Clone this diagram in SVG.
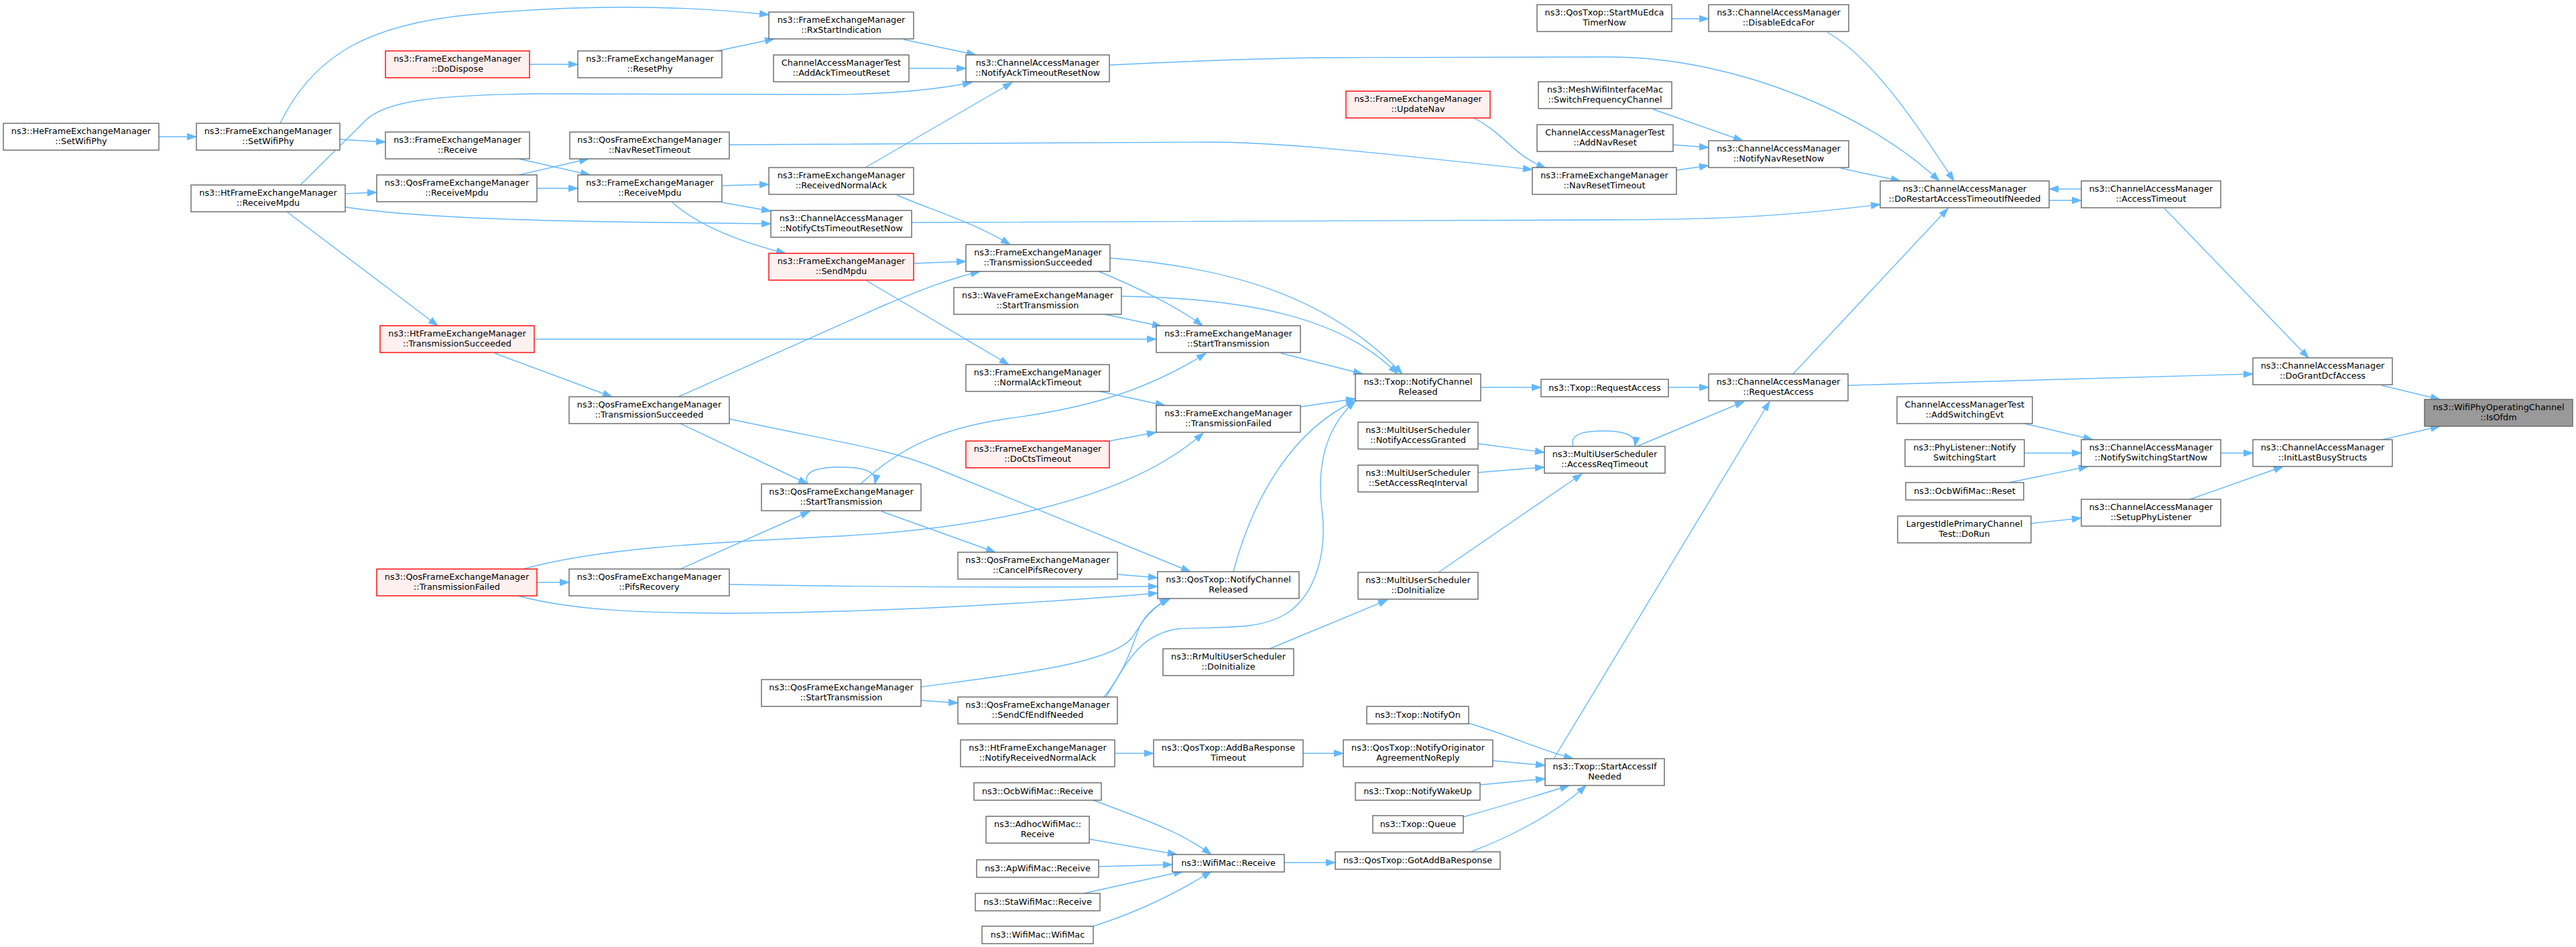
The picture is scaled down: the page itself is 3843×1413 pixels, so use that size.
<svg xmlns="http://www.w3.org/2000/svg" width="3843" height="1413" viewBox="0 0 3843 1413">
<style>
.n rect{fill:#ffffff;stroke:#666666;stroke-width:1.4}
.n.r rect{fill:#fff0f0;stroke:#ff0000}
.n.g rect{fill:#999999;stroke:#666666}
.n text{font-family:"DejaVu Sans",sans-serif;font-size:12.85px;text-anchor:middle;fill:#000000}
#edges path{fill:none;stroke:#63b8ff;stroke-width:1.4;marker-end:url(#arr)}
</style>
<defs>
<marker id="arr" markerWidth="14" markerHeight="10" refX="13.5" refY="4.75" orient="auto" markerUnits="userSpaceOnUse" overflow="visible"><path d="M0,0 L13.5,4.75 L0,9.5 z" fill="#63b8ff" stroke="#63b8ff" stroke-width="1"/></marker>
</defs>
<rect x="0" y="0" width="3843" height="1413" fill="#ffffff"/>
<g id="edges">
<path d="M237,204 L293,204"/>
<path d="M418,184 C470,76 560,36 700,22 C850,8 1000,6 1147,22"/>
<path d="M507,208 L575,212"/>
<path d="M448,276 C500,225 525,200 545,180 C575,150 650,142 800,140 L1250,141 C1330,140 1400,133 1450,123"/>
<path d="M515,289 L562,287"/>
<path d="M515,309 C600,322 750,330 1000,332 L1150,334"/>
<path d="M428,316 L653,486"/>
<path d="M790,96 L862,96"/>
<path d="M1070,76 L1155,58"/>
<path d="M774,237 L880,261"/>
<path d="M774,261 L878,237"/>
<path d="M801,281 L862,281"/>
<path d="M1088,216 L1800,212 C1900,212 2000,222 2286,253"/>
<path d="M1077,277 L1147,275"/>
<path d="M1077,302 L1150,315"/>
<path d="M1003,302 C1040,335 1100,360 1172,378"/>
<path d="M1348,59 L1456,82"/>
<path d="M1356,102 L1441,102"/>
<path d="M1291,250 L1510,123"/>
<path d="M1338,291 C1380,310 1450,330 1507,365"/>
<path d="M1363,393 L1441,390"/>
<path d="M1293,419 L1505,544"/>
<path d="M1655,97 C1800,90 1900,86 2000,86 L2400,85 C2600,85 2800,180 2893,270"/>
<path d="M1360,332 L2400,328 C2600,328 2700,318 2805,305"/>
<path d="M1656,385 C1850,400 1990,450 2092,558"/>
<path d="M1639,405 C1700,430 1760,460 1794,486"/>
<path d="M1673,442 C1850,445 2000,470 2085,558"/>
<path d="M1648,469 L1733,487"/>
<path d="M1911,527 L2033,558"/>
<path d="M1641,584 L1738,605"/>
<path d="M1940,607 L2022,595"/>
<path d="M1655,658 L1725,645"/>
<path d="M797,506 L1725,506"/>
<path d="M738,527 L913,592"/>
<path d="M1012,592 L1320,455 C1380,430 1420,415 1462,405"/>
<path d="M1015,632 L1205,722"/>
<path d="M1088,625 C1250,660 1330,670 1400,700 L1776,853"/>
<path d="M1205,722 C1195,700 1230,697 1253,697 C1280,697 1310,700 1305,722"/>
<path d="M1284,722 C1340,670 1400,640 1500,625 C1600,612 1700,590 1799,527"/>
<path d="M1315,763 L1485,824"/>
<path d="M781,849 C900,815 1100,808 1250,800 C1450,790 1680,750 1795,646"/>
<path d="M801,869 L849,869"/>
<path d="M773,889 C850,910 950,915 1100,915 C1300,914 1550,900 1727,885"/>
<path d="M1015,849 L1208,763"/>
<path d="M1088,872 C1300,876 1500,877 1727,875"/>
<path d="M1667,857 L1727,862"/>
<path d="M1840,853 C1870,740 1930,640 2022,598"/>
<path d="M1374,1025 C1520,1005 1660,990 1690,950 C1705,925 1720,905 1744,893"/>
<path d="M1374,1045 L1429,1049"/>
<path d="M1647,1040 C1680,1000 1690,960 1700,935 C1710,915 1725,903 1746,893"/>
<path d="M1650,1040 C1680,990 1700,945 1760,938 C1830,935 1880,940 1920,915 C1965,885 1980,820 1972,760 C1965,700 1975,640 2022,598"/>
<path d="M1894,968 L2070,895"/>
<path d="M2205,662 L2304,675"/>
<path d="M2205,705 L2304,697"/>
<path d="M2347,666 C2340,645 2370,643 2393,643 C2420,643 2442,648 2439,666"/>
<path d="M2442,666 L2602,599"/>
<path d="M2146,854 L2360,707"/>
<path d="M2209,578 L2299,578"/>
<path d="M2489,578 L2549,578"/>
<path d="M2675,558 L2906,311"/>
<path d="M2757,575 L3361,558"/>
<path d="M2318,1132 L2640,599"/>
<path d="M2746,251 L2835,270"/>
<path d="M2726,48 C2790,85 2850,170 2915,270"/>
<path d="M2494,28 L2549,28"/>
<path d="M2466,163 L2600,210"/>
<path d="M2496,216 L2549,220"/>
<path d="M2501,254 L2549,247"/>
<path d="M2199,176 C2245,200 2255,230 2306,251"/>
<path d="M3057,299 L3105,299"/>
<path d="M3105,282 L3057,282"/>
<path d="M3229,311 L3444,534"/>
<path d="M3553,575 L3640,596"/>
<path d="M3554,656 L3640,636"/>
<path d="M3313,676 L3361,676"/>
<path d="M3267,745 L3406,696"/>
<path d="M3020,632 L3122,656"/>
<path d="M3020,676 L3105,676"/>
<path d="M2997,720 L3115,696"/>
<path d="M3030,781 L3105,773"/>
<path d="M2191,1079 C2260,1100 2300,1120 2347,1132"/>
<path d="M2227,1135 L2305,1142"/>
<path d="M2208,1171 L2305,1162"/>
<path d="M2183,1219 C2250,1200 2300,1185 2341,1172"/>
<path d="M2194,1271 C2250,1250 2320,1215 2366,1172"/>
<path d="M1663,1124 L1721,1124"/>
<path d="M1944,1124 L2004,1124"/>
<path d="M1916,1287 L1992,1287"/>
<path d="M1631,1194 C1700,1220 1760,1240 1807,1275"/>
<path d="M1625,1252 L1756,1275"/>
<path d="M1639,1293 L1749,1290"/>
<path d="M1617,1333 L1765,1300"/>
<path d="M1631,1382 C1700,1360 1760,1330 1807,1300"/>
</g>
<g id="n1" class="n"><rect x="5" y="184" width="232" height="40"/><text><tspan x="121" y="200">ns3::HeFrameExchangeManager</tspan><tspan x="121" y="215">::SetWifiPhy</tspan></text></g>
<g id="n2" class="n"><rect x="293" y="184" width="214" height="40"/><text><tspan x="400" y="200">ns3::FrameExchangeManager</tspan><tspan x="400" y="215">::SetWifiPhy</tspan></text></g>
<g id="n3" class="n"><rect x="285" y="276" width="230" height="40"/><text><tspan x="400" y="292">ns3::HtFrameExchangeManager</tspan><tspan x="400" y="307">::ReceiveMpdu</tspan></text></g>
<g id="n4" class="n r"><rect x="575" y="76" width="215" height="40"/><text><tspan x="682.5" y="92">ns3::FrameExchangeManager</tspan><tspan x="682.5" y="107">::DoDispose</tspan></text></g>
<g id="n5" class="n"><rect x="575" y="197" width="215" height="40"/><text><tspan x="682.5" y="213">ns3::FrameExchangeManager</tspan><tspan x="682.5" y="228">::Receive</tspan></text></g>
<g id="n6" class="n"><rect x="562" y="261" width="239" height="40"/><text><tspan x="681.5" y="277">ns3::QosFrameExchangeManager</tspan><tspan x="681.5" y="292">::ReceiveMpdu</tspan></text></g>
<g id="n7" class="n r"><rect x="567" y="486" width="230" height="40"/><text><tspan x="682" y="502">ns3::HtFrameExchangeManager</tspan><tspan x="682" y="517">::TransmissionSucceeded</tspan></text></g>
<g id="n8" class="n"><rect x="849" y="592" width="239" height="40"/><text><tspan x="968.5" y="608">ns3::QosFrameExchangeManager</tspan><tspan x="968.5" y="623">::TransmissionSucceeded</tspan></text></g>
<g id="n9" class="n r"><rect x="562" y="849" width="239" height="40"/><text><tspan x="681.5" y="865">ns3::QosFrameExchangeManager</tspan><tspan x="681.5" y="880">::TransmissionFailed</tspan></text></g>
<g id="n10" class="n"><rect x="849" y="849" width="239" height="40"/><text><tspan x="968.5" y="865">ns3::QosFrameExchangeManager</tspan><tspan x="968.5" y="880">::PifsRecovery</tspan></text></g>
<g id="n11" class="n"><rect x="862" y="76" width="215" height="40"/><text><tspan x="969.5" y="92">ns3::FrameExchangeManager</tspan><tspan x="969.5" y="107">::ResetPhy</tspan></text></g>
<g id="n12" class="n"><rect x="850" y="197" width="238" height="40"/><text><tspan x="969" y="213">ns3::QosFrameExchangeManager</tspan><tspan x="969" y="228">::NavResetTimeout</tspan></text></g>
<g id="n13" class="n"><rect x="862" y="261" width="215" height="40"/><text><tspan x="969.5" y="277">ns3::FrameExchangeManager</tspan><tspan x="969.5" y="292">::ReceiveMpdu</tspan></text></g>
<g id="n14" class="n"><rect x="1147" y="18" width="216" height="40"/><text><tspan x="1255" y="34">ns3::FrameExchangeManager</tspan><tspan x="1255" y="49">::RxStartIndication</tspan></text></g>
<g id="n15" class="n"><rect x="1154" y="82" width="202" height="40"/><text><tspan x="1255" y="98">ChannelAccessManagerTest</tspan><tspan x="1255" y="113">::AddAckTimeoutReset</tspan></text></g>
<g id="n16" class="n"><rect x="1147" y="250" width="216" height="40"/><text><tspan x="1255" y="266">ns3::FrameExchangeManager</tspan><tspan x="1255" y="281">::ReceivedNormalAck</tspan></text></g>
<g id="n17" class="n"><rect x="1150" y="314" width="210" height="40"/><text><tspan x="1255" y="330">ns3::ChannelAccessManager</tspan><tspan x="1255" y="345">::NotifyCtsTimeoutResetNow</tspan></text></g>
<g id="n18" class="n r"><rect x="1147" y="378" width="216" height="40"/><text><tspan x="1255" y="394">ns3::FrameExchangeManager</tspan><tspan x="1255" y="409">::SendMpdu</tspan></text></g>
<g id="n19" class="n"><rect x="1136" y="722" width="238" height="40"/><text><tspan x="1255" y="738">ns3::QosFrameExchangeManager</tspan><tspan x="1255" y="753">::StartTransmission</tspan></text></g>
<g id="n20" class="n"><rect x="1136" y="1014" width="238" height="40"/><text><tspan x="1255" y="1030">ns3::QosFrameExchangeManager</tspan><tspan x="1255" y="1045">::StartTransmission</tspan></text></g>
<g id="n21" class="n"><rect x="1441" y="82" width="214" height="40"/><text><tspan x="1548" y="98">ns3::ChannelAccessManager</tspan><tspan x="1548" y="113">::NotifyAckTimeoutResetNow</tspan></text></g>
<g id="n22" class="n"><rect x="1441" y="365" width="215" height="40"/><text><tspan x="1548.5" y="381">ns3::FrameExchangeManager</tspan><tspan x="1548.5" y="396">::TransmissionSucceeded</tspan></text></g>
<g id="n23" class="n"><rect x="1423" y="429" width="250" height="40"/><text><tspan x="1548" y="445">ns3::WaveFrameExchangeManager</tspan><tspan x="1548" y="460">::StartTransmission</tspan></text></g>
<g id="n24" class="n"><rect x="1441" y="544" width="214" height="40"/><text><tspan x="1548" y="560">ns3::FrameExchangeManager</tspan><tspan x="1548" y="575">::NormalAckTimeout</tspan></text></g>
<g id="n25" class="n r"><rect x="1441" y="658" width="214" height="40"/><text><tspan x="1548" y="674">ns3::FrameExchangeManager</tspan><tspan x="1548" y="689">::DoCtsTimeout</tspan></text></g>
<g id="n26" class="n"><rect x="1429" y="824" width="238" height="40"/><text><tspan x="1548" y="840">ns3::QosFrameExchangeManager</tspan><tspan x="1548" y="855">::CancelPifsRecovery</tspan></text></g>
<g id="n27" class="n"><rect x="1429" y="1040" width="238" height="40"/><text><tspan x="1548" y="1056">ns3::QosFrameExchangeManager</tspan><tspan x="1548" y="1071">::SendCfEndIfNeeded</tspan></text></g>
<g id="n28" class="n"><rect x="1433" y="1104" width="230" height="40"/><text><tspan x="1548" y="1120">ns3::HtFrameExchangeManager</tspan><tspan x="1548" y="1135">::NotifyReceivedNormalAck</tspan></text></g>
<g id="n29" class="n"><rect x="1453" y="1168" width="190" height="26"/><text><tspan x="1548" y="1185">ns3::OcbWifiMac::Receive</tspan></text></g>
<g id="n30" class="n"><rect x="1471" y="1218" width="154" height="40"/><text><tspan x="1548" y="1234">ns3::AdhocWifiMac::</tspan><tspan x="1548" y="1249">Receive</tspan></text></g>
<g id="n31" class="n"><rect x="1457" y="1283" width="182" height="26"/><text><tspan x="1548" y="1300">ns3::ApWifiMac::Receive</tspan></text></g>
<g id="n32" class="n"><rect x="1455" y="1333" width="186" height="26"/><text><tspan x="1548" y="1350">ns3::StaWifiMac::Receive</tspan></text></g>
<g id="n33" class="n"><rect x="1465" y="1382" width="166" height="26"/><text><tspan x="1548" y="1399">ns3::WifiMac::WifiMac</tspan></text></g>
<g id="n34" class="n"><rect x="1725" y="486" width="215" height="40"/><text><tspan x="1832.5" y="502">ns3::FrameExchangeManager</tspan><tspan x="1832.5" y="517">::StartTransmission</tspan></text></g>
<g id="n35" class="n"><rect x="1725" y="605" width="215" height="40"/><text><tspan x="1832.5" y="621">ns3::FrameExchangeManager</tspan><tspan x="1832.5" y="636">::TransmissionFailed</tspan></text></g>
<g id="n36" class="n"><rect x="1727" y="853" width="211" height="40"/><text><tspan x="1832.5" y="869">ns3::QosTxop::NotifyChannel</tspan><tspan x="1832.5" y="884">Released</tspan></text></g>
<g id="n37" class="n"><rect x="1735" y="968" width="195" height="40"/><text><tspan x="1832.5" y="984">ns3::RrMultiUserScheduler</tspan><tspan x="1832.5" y="999">::DoInitialize</tspan></text></g>
<g id="n38" class="n"><rect x="1721" y="1104" width="223" height="40"/><text><tspan x="1832.5" y="1120">ns3::QosTxop::AddBaResponse</tspan><tspan x="1832.5" y="1135">Timeout</tspan></text></g>
<g id="n39" class="n"><rect x="1749" y="1275" width="167" height="26"/><text><tspan x="1832.5" y="1292">ns3::WifiMac::Receive</tspan></text></g>
<g id="n40" class="n r"><rect x="2008" y="136" width="215" height="40"/><text><tspan x="2115.5" y="152">ns3::FrameExchangeManager</tspan><tspan x="2115.5" y="167">::UpdateNav</tspan></text></g>
<g id="n41" class="n"><rect x="2022" y="558" width="187" height="40"/><text><tspan x="2115.5" y="574">ns3::Txop::NotifyChannel</tspan><tspan x="2115.5" y="589">Released</tspan></text></g>
<g id="n42" class="n"><rect x="2026" y="630" width="179" height="40"/><text><tspan x="2115.5" y="646">ns3::MultiUserScheduler</tspan><tspan x="2115.5" y="661">::NotifyAccessGranted</tspan></text></g>
<g id="n43" class="n"><rect x="2026" y="694" width="179" height="40"/><text><tspan x="2115.5" y="710">ns3::MultiUserScheduler</tspan><tspan x="2115.5" y="725">::SetAccessReqInterval</tspan></text></g>
<g id="n44" class="n"><rect x="2026" y="854" width="179" height="40"/><text><tspan x="2115.5" y="870">ns3::MultiUserScheduler</tspan><tspan x="2115.5" y="885">::DoInitialize</tspan></text></g>
<g id="n45" class="n"><rect x="2039" y="1054" width="152" height="26"/><text><tspan x="2115" y="1071">ns3::Txop::NotifyOn</tspan></text></g>
<g id="n46" class="n"><rect x="2004" y="1104" width="223" height="40"/><text><tspan x="2115.5" y="1120">ns3::QosTxop::NotifyOriginator</tspan><tspan x="2115.5" y="1135">AgreementNoReply</tspan></text></g>
<g id="n47" class="n"><rect x="2022" y="1168" width="186" height="26"/><text><tspan x="2115" y="1185">ns3::Txop::NotifyWakeUp</tspan></text></g>
<g id="n48" class="n"><rect x="2048" y="1217" width="135" height="26"/><text><tspan x="2115.5" y="1234">ns3::Txop::Queue</tspan></text></g>
<g id="n49" class="n"><rect x="1992" y="1271" width="246" height="26"/><text><tspan x="2115" y="1288">ns3::QosTxop::GotAddBaResponse</tspan></text></g>
<g id="n50" class="n"><rect x="2293" y="7" width="201" height="40"/><text><tspan x="2393.5" y="23">ns3::QosTxop::StartMuEdca</tspan><tspan x="2393.5" y="38">TimerNow</tspan></text></g>
<g id="n51" class="n"><rect x="2295" y="122" width="199" height="40"/><text><tspan x="2394.5" y="138">ns3::MeshWifiInterfaceMac</tspan><tspan x="2394.5" y="153">::SwitchFrequencyChannel</tspan></text></g>
<g id="n52" class="n"><rect x="2293" y="186" width="203" height="40"/><text><tspan x="2394.5" y="202">ChannelAccessManagerTest</tspan><tspan x="2394.5" y="217">::AddNavReset</tspan></text></g>
<g id="n53" class="n"><rect x="2286" y="250" width="215" height="40"/><text><tspan x="2393.5" y="266">ns3::FrameExchangeManager</tspan><tspan x="2393.5" y="281">::NavResetTimeout</tspan></text></g>
<g id="n54" class="n"><rect x="2299" y="566" width="190" height="26"/><text><tspan x="2394" y="583">ns3::Txop::RequestAccess</tspan></text></g>
<g id="n55" class="n"><rect x="2304" y="666" width="180" height="40"/><text><tspan x="2394" y="682">ns3::MultiUserScheduler</tspan><tspan x="2394" y="697">::AccessReqTimeout</tspan></text></g>
<g id="n56" class="n"><rect x="2305" y="1132" width="178" height="40"/><text><tspan x="2394" y="1148">ns3::Txop::StartAccessIf</tspan><tspan x="2394" y="1163">Needed</tspan></text></g>
<g id="n57" class="n"><rect x="2549" y="7" width="209" height="40"/><text><tspan x="2653.5" y="23">ns3::ChannelAccessManager</tspan><tspan x="2653.5" y="38">::DisableEdcaFor</tspan></text></g>
<g id="n58" class="n"><rect x="2549" y="210" width="209" height="40"/><text><tspan x="2653.5" y="226">ns3::ChannelAccessManager</tspan><tspan x="2653.5" y="241">::NotifyNavResetNow</tspan></text></g>
<g id="n59" class="n"><rect x="2549" y="558" width="208" height="40"/><text><tspan x="2653" y="574">ns3::ChannelAccessManager</tspan><tspan x="2653" y="589">::RequestAccess</tspan></text></g>
<g id="n60" class="n"><rect x="2805" y="270" width="252" height="40"/><text><tspan x="2931" y="286">ns3::ChannelAccessManager</tspan><tspan x="2931" y="301">::DoRestartAccessTimeoutIfNeeded</tspan></text></g>
<g id="n61" class="n"><rect x="2830" y="592" width="202" height="40"/><text><tspan x="2931" y="608">ChannelAccessManagerTest</tspan><tspan x="2931" y="623">::AddSwitchingEvt</tspan></text></g>
<g id="n62" class="n"><rect x="2842" y="656" width="178" height="40"/><text><tspan x="2931" y="672">ns3::PhyListener::Notify</tspan><tspan x="2931" y="687">SwitchingStart</tspan></text></g>
<g id="n63" class="n"><rect x="2843" y="720" width="176" height="26"/><text><tspan x="2931" y="737">ns3::OcbWifiMac::Reset</tspan></text></g>
<g id="n64" class="n"><rect x="2831" y="770" width="199" height="40"/><text><tspan x="2930.5" y="786">LargestIdlePrimaryChannel</tspan><tspan x="2930.5" y="801">Test::DoRun</tspan></text></g>
<g id="n65" class="n"><rect x="3105" y="270" width="208" height="40"/><text><tspan x="3209" y="286">ns3::ChannelAccessManager</tspan><tspan x="3209" y="301">::AccessTimeout</tspan></text></g>
<g id="n66" class="n"><rect x="3105" y="656" width="208" height="40"/><text><tspan x="3209" y="672">ns3::ChannelAccessManager</tspan><tspan x="3209" y="687">::NotifySwitchingStartNow</tspan></text></g>
<g id="n67" class="n"><rect x="3105" y="745" width="208" height="40"/><text><tspan x="3209" y="761">ns3::ChannelAccessManager</tspan><tspan x="3209" y="776">::SetupPhyListener</tspan></text></g>
<g id="n68" class="n"><rect x="3361" y="534" width="208" height="40"/><text><tspan x="3465" y="550">ns3::ChannelAccessManager</tspan><tspan x="3465" y="565">::DoGrantDcfAccess</tspan></text></g>
<g id="n69" class="n"><rect x="3361" y="656" width="208" height="40"/><text><tspan x="3465" y="672">ns3::ChannelAccessManager</tspan><tspan x="3465" y="687">::InitLastBusyStructs</tspan></text></g>
<g id="n70" class="n g"><rect x="3617" y="596" width="221" height="40"/><text><tspan x="3727.5" y="612">ns3::WifiPhyOperatingChannel</tspan><tspan x="3727.5" y="627">::IsOfdm</tspan></text></g>
</svg>
